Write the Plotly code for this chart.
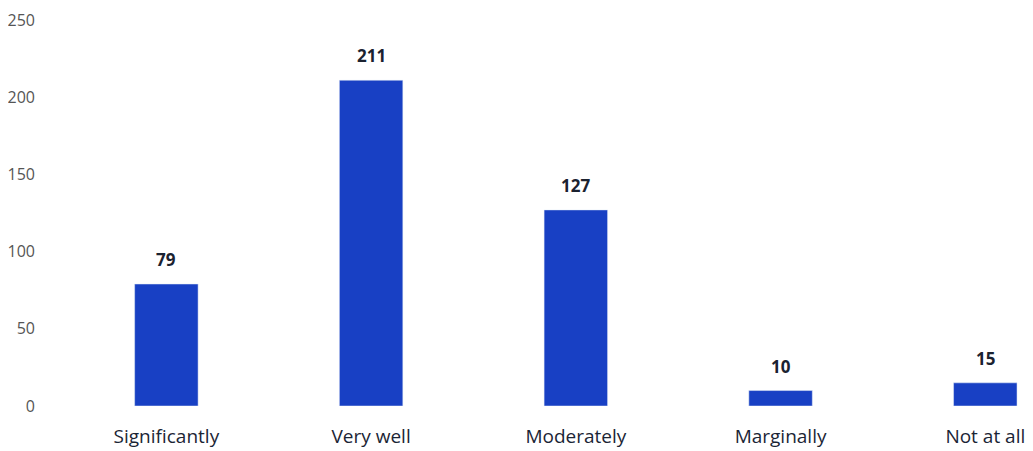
import plotly.graph_objects as go

# responses per category
categories = ["Significantly", "Very well", "Moderately", "Marginally", "Not at all"]
counts = [79, 211, 127, 10, 15]
y_ticks = [0, 50, 100, 150, 200, 250]

fig = go.Figure()

fig.add_trace(go.Bar(
    x=categories,
    y=counts,
    width=0.31,
    marker_color="#1840c4",
))

# value labels sit a little higher above the bars than plotly's default
for cat, v in zip(categories, counts):
    fig.add_annotation(
        x=cat, y=v, text=f"<b>{v}</b>", showarrow=False,
        yanchor="bottom", yshift=11,
        font=dict(family="Open Sans", size=17, color="#1b2230"),
    )

fig.update_layout(
    width=1025,
    height=443,
    margin=dict(l=52, r=0, t=12, b=45),
    paper_bgcolor="white",
    plot_bgcolor="white",
    showlegend=False,
    xaxis=dict(
        range=[-0.5, 4.233],
        showline=False,
        ticks="",
        ticklabelstandoff=17,
        tickfont=dict(family="Open Sans", size=19, color="#1b2535", weight=500),
    ),
    yaxis=dict(
        range=[0, 250],
        tickvals=y_ticks,
        showgrid=False,
        zeroline=False,
        tickfont=dict(family="Open Sans", size=16, color="#555555"),
        ticklabelstandoff=28,
    ),
)

fig.write_html("out.html")
